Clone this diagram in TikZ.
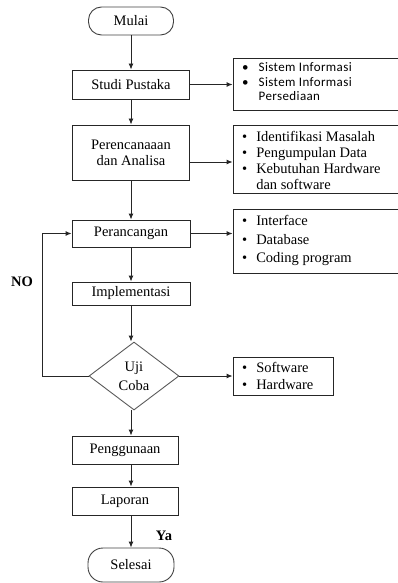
\documentclass[tikz,border=0pt]{standalone}
\usepackage{fontspec}
\setmainfont{Liberation Serif}
\newfontfamily\calib[LetterSpace=3]{Carlito}
\usetikzlibrary{arrows.meta,shapes.geometric}
\begin{document}
\begin{tikzpicture}[x=1pt,y=-1pt,
  font=\fontsize{14.5}{16}\selectfont,
  stepbox/.style={draw=black!85,line width=0.9pt,rectangle,inner sep=0pt,align=center},
  termbox/.style={draw=black!75,line width=0.9pt,rectangle,rounded corners=13pt,inner sep=0pt},
  listbox/.style={draw=black!85,line width=0.9pt,rectangle,inner sep=0pt},
  listtext/.style={anchor=west,inner sep=0pt,align=left},
  decbox/.style={draw=black!65,line width=0.9pt,diamond,inner sep=0pt,align=center},
  arr/.style={-{Latex[length=6pt,width=5pt]},line width=0.9pt,draw=black!85},
  lbl/.style={font=\fontsize{14.5}{16}\selectfont\bfseries,inner sep=0pt}]
\useasboundingbox (0,0) rectangle (397,583);
% main column
\node[termbox,minimum width=85,minimum height=28] (mulai) at (131,21) {Mulai};
\node[stepbox,minimum width=117,minimum height=29] (studi) at (131,84.5) {Studi Pustaka};
\node[stepbox,minimum width=117,minimum height=55] (peren) at (131,152.5) {Perencanaaan\\dan Analisa};
\node[stepbox,minimum width=118,minimum height=27] (peranc) at (131,233.5) {Perancangan};
\node[stepbox,minimum width=118,minimum height=23] (impl) at (131,293.5) {Implementasi};
\node[decbox,minimum width=90,minimum height=68,font=\fontsize{14.5}{19}\selectfont] (uji) at (134,376) {Uji\\Coba};
\node[stepbox,minimum width=106,minimum height=28] (pengg) at (125,450) {Penggunaan};
\node[stepbox,minimum width=106,minimum height=28] (lapor) at (125,501) {Laporan};
\node[termbox,minimum width=86,minimum height=34,rounded corners=15pt] (selesai) at (131,565) {Selesai};
% side boxes
\node[listbox,minimum width=168,minimum height=52] (b1) at (317,84) {};
\node[listbox,minimum width=168,minimum height=68] (b2) at (317,159) {};
\node[listbox,minimum width=168,minimum height=64] (b3) at (317,241) {};
\node[listbox,minimum width=100,minimum height=38] (b4) at (283,376) {};
% side texts
\node[listtext,font=\calib\fontsize{13}{14.5}\selectfont] (t1) at (242,83.5)
  {\begin{tabular}{@{}l@{\hspace{10pt}}l@{}}\textbullet & Sistem Informasi\\ \textbullet & Sistem Informasi\\ & Persediaan\end{tabular}};
\node[listtext,font=\fontsize{14.5}{16}\selectfont] (t2) at (242,162)
  {\begin{tabular}{@{}l@{\hspace{9pt}}l@{}}\textbullet & Identifikasi Masalah\\ \textbullet & Pengumpulan Data\\ \textbullet & Kebutuhan Hardware\\ & dan software\end{tabular}};
\node[listtext,font=\fontsize{14.5}{18.5}\selectfont] (t3) at (242,240.5)
  {\begin{tabular}{@{}l@{\hspace{9pt}}l@{}}\textbullet & Interface\\ \textbullet & Database\\ \textbullet & Coding program\end{tabular}};
\node[listtext,font=\fontsize{14.5}{17}\selectfont] (t4) at (242,377.5)
  {\begin{tabular}{@{}l@{\hspace{9pt}}l@{}}\textbullet & Software\\ \textbullet & Hardware\end{tabular}};
% labels
\node[lbl] (no) at (22,282) {NO};
\node[lbl] (ya) at (164,536) {Ya};
% vertical flow
\draw[arr] (mulai.south) -- (studi.north);
\draw[arr] (studi.south) -- (peren.north);
\draw[arr] (peren.south) -- (peranc.north);
\draw[arr] (peranc.south) -- (impl.north);
\draw[arr] (impl.south) -- (impl.south |- uji.north);
\draw[arr] (mulai.south |- uji.south) -- (mulai.south |- pengg.north);
\draw[arr] (mulai.south |- pengg.south) -- (mulai.south |- lapor.north);
\draw[arr] (mulai.south |- lapor.south) -- (selesai.north);
% side arrows
\draw[arr] (studi.east) -- (studi.east -| b1.west);
\draw[arr] ([yshift=-9.5pt]peren.east) -- ([yshift=-9.5pt]peren.east -| b2.west);
\draw[arr] (peranc.east) -- (peranc.east -| b3.west);
\draw[arr] (uji.east) -- (uji.east -| b4.west);
% loop back
\coordinate (loop) at (42,376);
\draw[arr] (uji.west) -- (loop) |- (peranc.west);
\end{tikzpicture}
\end{document}
